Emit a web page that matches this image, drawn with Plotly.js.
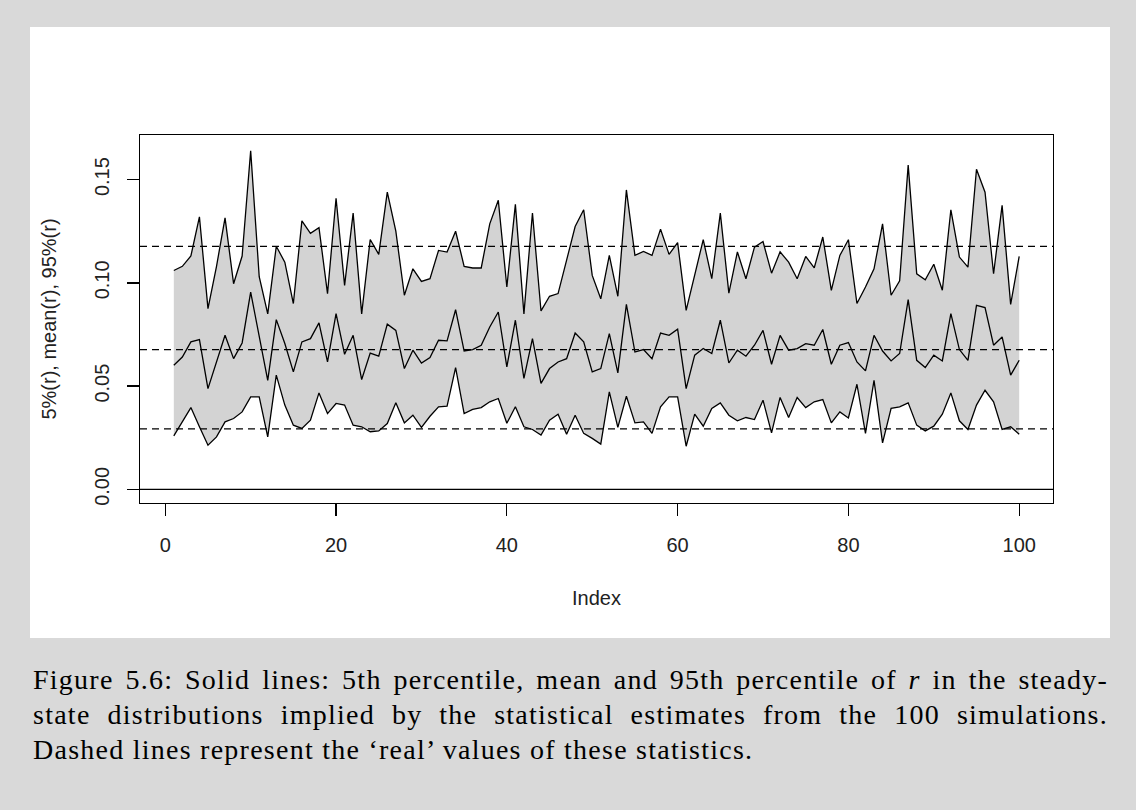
<!DOCTYPE html>
<html>
<head>
<meta charset="utf-8">
<script src="https://cdn.plot.ly/plotly-3.0.1.min.js"></script>
<style>
  html, body { margin: 0; padding: 0; }
  body { width: 1136px; height: 810px; background: #d9d9d9; position: relative; overflow: hidden; }
  #panel { position: absolute; left: 30px; top: 27px; width: 1080px; height: 611px; background: #ffffff; }
  #chart { position: absolute; left: 0; top: 0; width: 1080px; height: 611px; }
  #caption { position: absolute; left: 33px; top: 662px; width: 1075px; font-family: "Liberation Serif", "Times New Roman", serif; font-size: 28px; letter-spacing: 1.25px; line-height: 35px; color: #000; }
  #caption .ln { text-align: justify; text-align-last: justify; white-space: nowrap; }
  #caption .last { text-align: left; text-align-last: left; }
</style>
</head>
<body>
<div id="panel"><div id="chart"></div></div>
<div id="caption">
  <div class="ln">Figure 5.6: Solid lines: 5th percentile, mean and 95th percentile of <i>r</i> in the steady-</div>
  <div class="ln">state distributions implied by the statistical estimates from the 100 simulations.</div>
  <div class="ln last">Dashed lines represent the ‘real’ values of these statistics.</div>
</div>
<script>
// Simulation index 1..100
const simIndex = Array.from({length: 100}, (_, k) => k + 1);

// 95th percentile of r
const upper95 = [
  0.106, 0.108, 0.113, 0.132, 0.0875, 0.108, 0.1315, 0.0996, 0.113, 0.164,
  0.103, 0.085, 0.1177, 0.110, 0.090, 0.130, 0.124, 0.1267, 0.0948, 0.141,
  0.0988, 0.1338, 0.085, 0.121, 0.1138, 0.1439, 0.125, 0.094, 0.1068, 0.1007,
  0.102, 0.1157, 0.1149, 0.125, 0.108, 0.1072, 0.1072, 0.1286, 0.140, 0.098,
  0.138, 0.085, 0.1338, 0.0864, 0.0935, 0.0948, 0.111, 0.1273, 0.1354, 0.1036,
  0.0923, 0.1133, 0.0935, 0.145, 0.1133, 0.1152, 0.1133, 0.126, 0.1138, 0.1195,
  0.0867, 0.104, 0.1209, 0.102, 0.1338, 0.095, 0.115, 0.102, 0.1173, 0.120,
  0.1047, 0.115, 0.110, 0.102, 0.1128, 0.1073, 0.1222, 0.0964, 0.1133, 0.1209,
  0.090, 0.098, 0.1068, 0.1286, 0.094, 0.101, 0.157, 0.1044, 0.1015, 0.109,
  0.0964, 0.1354, 0.1125, 0.1076, 0.155, 0.1439, 0.1044, 0.1375, 0.0896, 0.1128
];

// mean of r
const meanR = [
  0.0601, 0.0641, 0.0714, 0.0725, 0.0488, 0.0617, 0.0746, 0.0633, 0.0709, 0.0955,
  0.0746, 0.0528, 0.0822, 0.0706, 0.0569, 0.0714, 0.073, 0.0806, 0.0617, 0.0851,
  0.0654, 0.0746, 0.0532, 0.066, 0.0645, 0.080, 0.077, 0.0585, 0.0674, 0.0612,
  0.0638, 0.0722, 0.0719, 0.087, 0.067, 0.0677, 0.0698, 0.0786, 0.0859, 0.0593,
  0.0819, 0.0537, 0.073, 0.0513, 0.0585, 0.0617, 0.0633, 0.0757, 0.0714, 0.0569,
  0.0585, 0.0754, 0.0564, 0.0896, 0.0665, 0.0677, 0.0633, 0.0757, 0.0746, 0.0776,
  0.0488, 0.065, 0.0682, 0.0658, 0.0819, 0.0612, 0.0674, 0.0645, 0.0698, 0.077,
  0.0606, 0.0746, 0.0674, 0.0682, 0.0706, 0.0698, 0.0774, 0.0606, 0.0698, 0.0711,
  0.0617, 0.0574, 0.0746, 0.067, 0.0622, 0.0658, 0.0919, 0.0625, 0.059, 0.065,
  0.0622, 0.0851, 0.0677, 0.0625, 0.0891, 0.088, 0.0698, 0.0738, 0.0553, 0.0625
];

// 5th percentile of r
const lower5 = [
  0.0259, 0.0327, 0.0396, 0.0303, 0.0214, 0.0254, 0.0327, 0.0343, 0.0375, 0.0448,
  0.0448, 0.0254, 0.0553, 0.0408, 0.0311, 0.0295, 0.0335, 0.0467, 0.0367, 0.0416,
  0.0408, 0.0311, 0.0303, 0.0279, 0.0283, 0.0319, 0.0419, 0.0322, 0.0359, 0.030,
  0.0354, 0.040, 0.0403, 0.059, 0.0367, 0.0387, 0.0396, 0.0424, 0.044, 0.032,
  0.040, 0.0303, 0.029, 0.0263, 0.0335, 0.0364, 0.0267, 0.0359, 0.0271, 0.0247,
  0.0219, 0.0472, 0.030, 0.0451, 0.0322, 0.0327, 0.0271, 0.040, 0.0448, 0.0448,
  0.0209, 0.0364, 0.0306, 0.0392, 0.0419, 0.0359, 0.0332, 0.0348, 0.0338, 0.0432,
  0.0274, 0.0445, 0.0348, 0.0445, 0.0396, 0.0424, 0.0435, 0.0322, 0.0375, 0.0346,
  0.0509, 0.0271, 0.0528, 0.0225, 0.0392, 0.040, 0.0419, 0.0311, 0.0283, 0.0306,
  0.0364, 0.0467, 0.0332, 0.029, 0.0408, 0.048, 0.0424, 0.029, 0.0303, 0.0267
];

// 'real' values: 5th percentile, mean, 95th percentile
const realValues = [0.0293, 0.0677, 0.1177];
const xTicks = [0, 20, 40, 60, 80, 100];
const yTicks = [0.00, 0.05, 0.10, 0.15];
const yTickText = ["0.00", "0.05", "0.10", "0.15"];

const lineStyle = {color: '#000000', width: 1.3};

const traces = [
  {x: simIndex, y: lower5, type: 'scatter', mode: 'lines', line: lineStyle, hoverinfo: 'skip', showlegend: false},
  {x: simIndex, y: upper95, type: 'scatter', mode: 'lines', line: lineStyle, fill: 'tonexty', fillcolor: '#d3d3d3', hoverinfo: 'skip', showlegend: false},
  {x: simIndex, y: meanR, type: 'scatter', mode: 'lines', line: lineStyle, hoverinfo: 'skip', showlegend: false}
];

const shapes = realValues.map(v => ({
  type: 'line', xref: 'paper', x0: 0, x1: 1, yref: 'y', y0: v, y1: v,
  line: {color: '#000000', width: 1.3, dash: '7px,5px'}, layer: 'above'
}));
shapes.push({type: 'line', xref: 'paper', x0: 0, x1: 1, yref: 'y', y0: 0, y1: 0,
  line: {color: '#000000', width: 1.3}, layer: 'above'});

const axisFont = {family: 'Liberation Sans, Arial, sans-serif', size: 20, color: '#222222'};

const layout = {
  width: 1080, height: 611,
  margin: {l: 110, r: 57, t: 108, b: 135},
  paper_bgcolor: '#ffffff', plot_bgcolor: '#ffffff',
  showlegend: false,
  font: axisFont,
  xaxis: {
    range: [-2.96, 103.96], tickvals: xTicks, ticks: 'outside', ticklen: 12, tickwidth: 1.3, tickcolor: '#000',
    showline: true, mirror: true, linecolor: '#000', linewidth: 1.3, showgrid: false, zeroline: false,
    tickfont: axisFont, ticklabelstandoff: 12,
    title: {text: 'Index', font: axisFont, standoff: 35}
  },
  yaxis: {
    range: [-0.0066, 0.1716], tickvals: yTicks, ticktext: yTickText, tickangle: -90, ticks: 'outside', ticklen: 12, tickwidth: 1.3, tickcolor: '#000',
    showline: true, mirror: true, linecolor: '#000', linewidth: 1.3, showgrid: false, zeroline: false,
    tickfont: axisFont, ticklabelstandoff: 10,
    title: {text: '5%(r), mean(r), 95%(r)', font: axisFont, standoff: 28}
  },
  shapes: shapes
};

Plotly.newPlot('chart', traces, layout, {displayModeBar: false, staticPlot: true});
</script>
</body>
</html>
